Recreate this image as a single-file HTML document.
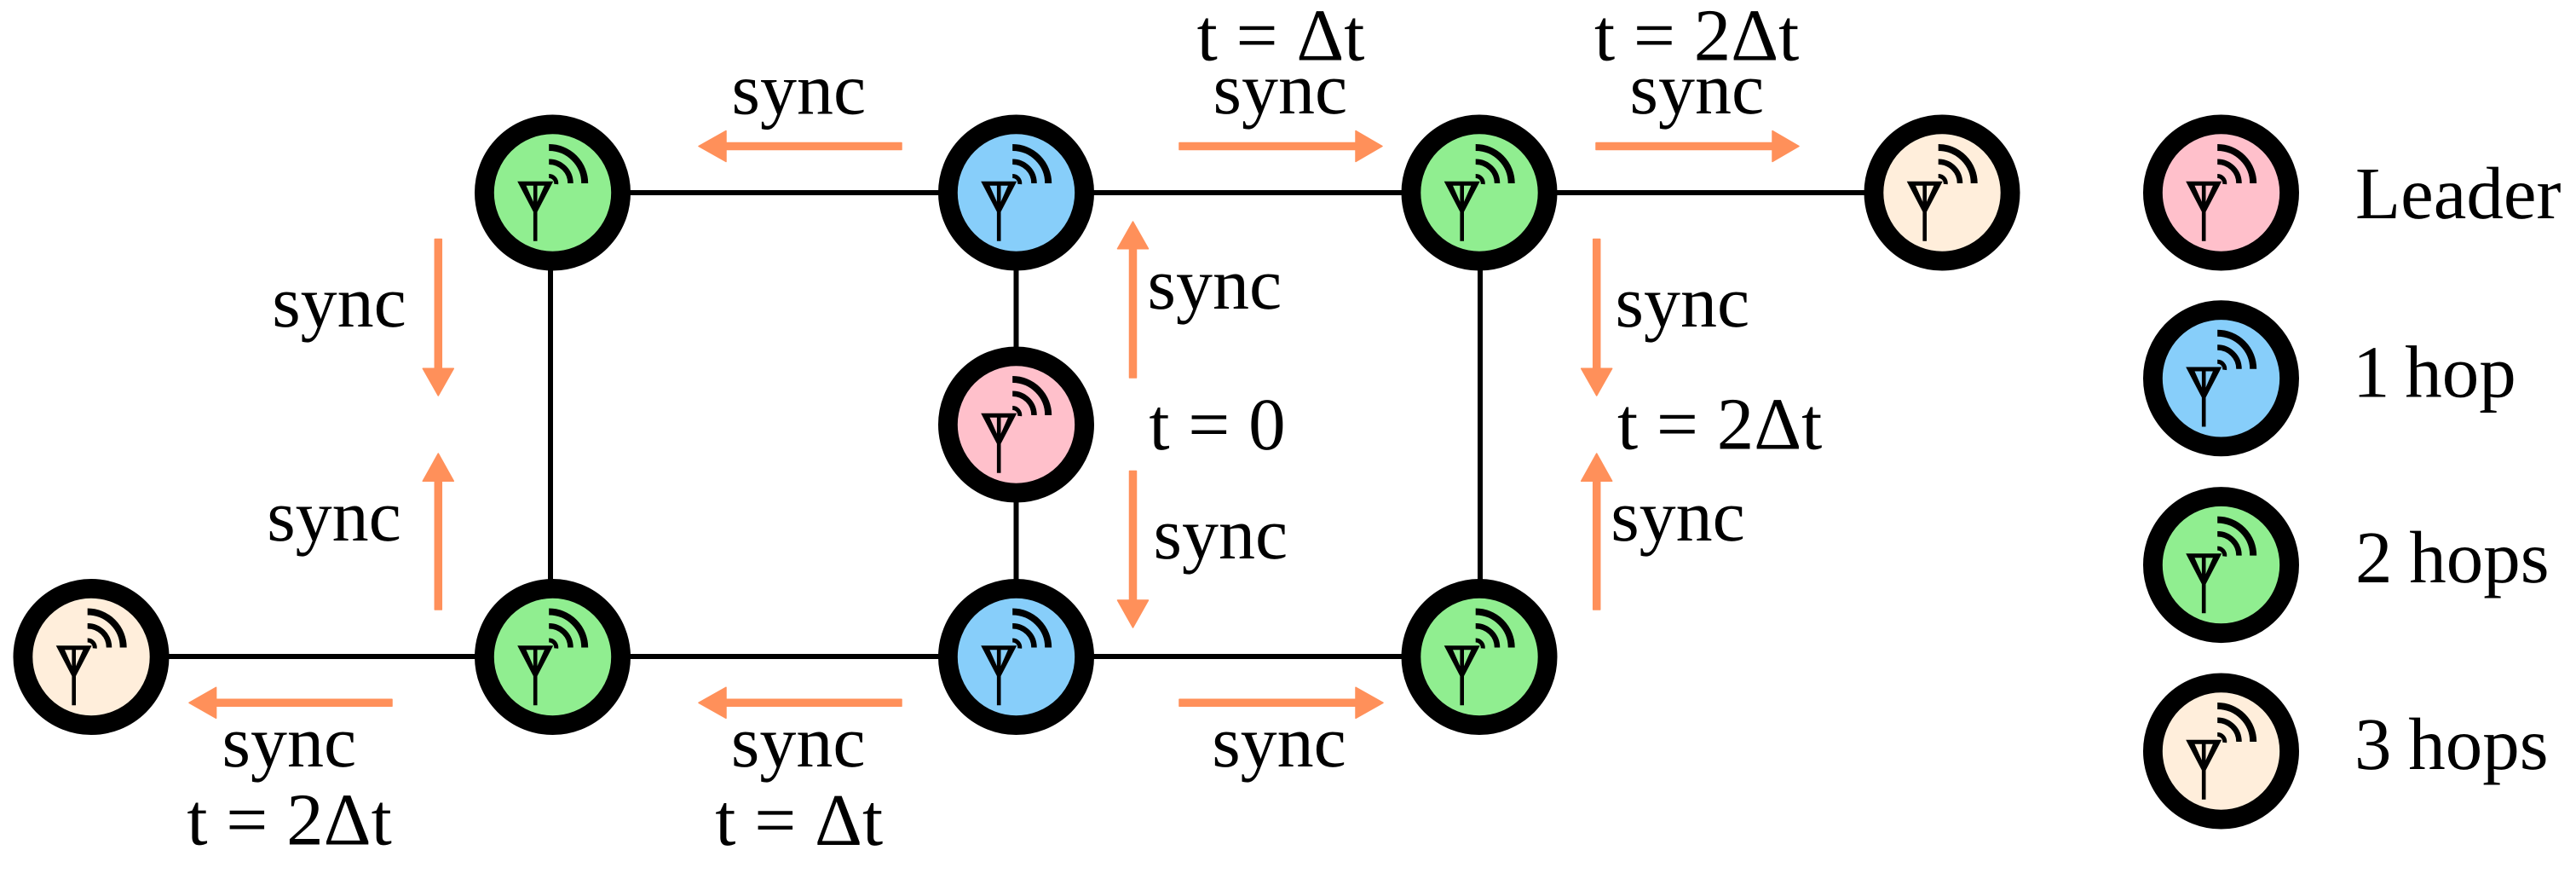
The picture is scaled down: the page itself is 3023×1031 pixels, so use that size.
<!DOCTYPE html>
<html lang="en"><head><meta charset="utf-8"><title>Sync diagram</title>
<style>
html,body{margin:0;padding:0;background:#fff;width:3023px;height:1031px;overflow:hidden}
svg{display:block}
text{font-family:"Liberation Serif","DejaVu Serif",serif;font-size:87px;fill:#000;text-rendering:geometricPrecision}
text.s{font-size:86px}
</style></head><body>
<svg xmlns="http://www.w3.org/2000/svg" width="3023" height="1031" viewBox="0 0 3023 1031">
<defs>
<g id="ic">
<path fill="#000" fill-rule="evenodd" d="M-41.3 -13.3H0.7L-18 22.5V56.7H-22.6V22.5ZM-31 -8.3H-22.6V10.7ZM-18 -8.3H-9.6L-18 10.7Z"/>
<g fill="none" stroke="#000">
<path stroke-width="8" d="M-4.3 -53A42 42 0 0 1 37.7 -11"/>
<path stroke-width="6.5" d="M-4.3 -36.3A25.3 25.3 0 0 1 21 -11"/>
<path stroke-width="5" d="M-4.3 -19.5A8.5 8.5 0 0 1 4.2 -10"/>
</g>
</g>
</defs>
<g stroke="#000" stroke-width="6" fill="none">
<path d="M648 226H2279"/><path d="M107 770H1736"/>
<path d="M646 226V770"/><path d="M1192.5 226V770"/><path d="M1737 226V770"/>
</g>
<g stroke="#000" stroke-width="22.8">
<circle cx="648.5" cy="226" r="80.1" fill="#90EE90"/>
<circle cx="1192.5" cy="226" r="80.1" fill="#87CEFA"/>
<circle cx="1736" cy="226" r="80.1" fill="#90EE90"/>
<circle cx="2279" cy="226" r="80.1" fill="#FFEEDB"/>
<circle cx="1192.5" cy="498" r="80.1" fill="#FFC0CB"/>
<circle cx="107" cy="770.5" r="80.1" fill="#FFEEDB"/>
<circle cx="648.5" cy="770.5" r="80.1" fill="#90EE90"/>
<circle cx="1192.5" cy="770.5" r="80.1" fill="#87CEFA"/>
<circle cx="1736" cy="770.5" r="80.1" fill="#90EE90"/>
<circle cx="2606.5" cy="226" r="80.1" fill="#FFC0CB"/>
<circle cx="2606.5" cy="443.8" r="80.1" fill="#87CEFA"/>
<circle cx="2606.5" cy="662.6" r="80.1" fill="#90EE90"/>
<circle cx="2606.5" cy="881" r="80.1" fill="#FFEEDB"/>
</g>
<use href="#ic" x="648.5" y="226"/>
<use href="#ic" x="1192.5" y="226"/>
<use href="#ic" x="1736" y="226"/>
<use href="#ic" x="2279" y="226"/>
<use href="#ic" x="1192.5" y="498"/>
<use href="#ic" x="107" y="770.5"/>
<use href="#ic" x="648.5" y="770.5"/>
<use href="#ic" x="1192.5" y="770.5"/>
<use href="#ic" x="1736" y="770.5"/>
<use href="#ic" x="2606.5" y="226"/>
<use href="#ic" x="2606.5" y="443.8"/>
<use href="#ic" x="2606.5" y="662.6"/>
<use href="#ic" x="2606.5" y="881"/>
<g fill="#FF905A" stroke="#FF905A" stroke-width="1.5" stroke-linejoin="round">
<path d="M1384 167.5H1591V153.5L1622 171.5L1591 189.5V175.5H1384Z"/>
<path d="M1873 167.5H2080V153.5L2111 171.5L2080 189.5V175.5H1873Z"/>
<path d="M1058 167.5H852V153.5L820 171.5L852 189.5V175.5H1058Z"/>
<path d="M460 820.3H253.6V806.3L222 824.3L253.6 842.3V828.3H460Z"/>
<path d="M1058 820.3H852V806.3L820 824.3L852 842.3V828.3H1058Z"/>
<path d="M1384 820.3H1591V806.3L1623 824.3L1591 842.3V828.3H1384Z"/>
<path d="M1325.5 443H1333.5V291.7H1347.5L1329.5 260L1311.5 291.7H1325.5Z"/>
<path d="M1325.5 552.5H1333.5V704H1347.5L1329.5 736L1311.5 704H1325.5Z"/>
<path d="M510.3 280.5H518.3V432.3H532.3L514.3 464L496.3 432.3H510.3Z"/>
<path d="M510.3 715H518.3V564.3H532.3L514.3 532L496.3 564.3H510.3Z"/>
<path d="M1869.7 280.5H1877.7V432.3H1891.7L1873.7 464L1855.7 432.3H1869.7Z"/>
<path d="M1869.7 715H1877.7V564.3H1891.7L1873.7 532L1855.7 564.3H1869.7Z"/>
</g>
<text x="1404.6" y="70.7">t = Δt</text>
<text x="1871" y="70.7">t = 2Δt</text>
<text class="s" x="1423.5" y="133">sync</text>
<text class="s" x="1912.5" y="133">sync</text>
<text class="s" x="858.5" y="133.3">sync</text>
<text class="s" x="1346.5" y="362">sync</text>
<text x="1348.4" y="527">t = 0</text>
<text class="s" x="1353.5" y="655">sync</text>
<text class="s" x="1895.5" y="383">sync</text>
<text x="1898" y="526.7">t = 2Δt</text>
<text class="s" x="1890.2" y="634">sync</text>
<text class="s" x="319.2" y="383">sync</text>
<text class="s" x="313.2" y="634">sync</text>
<text class="s" x="260.5" y="899">sync</text>
<text class="s" x="857.9" y="899">sync</text>
<text class="s" x="1422.2" y="899">sync</text>
<text x="219.4" y="990.7">t = 2Δt</text>
<text x="839.3" y="991">t = Δt</text>
<text x="2764" y="256">Leader</text>
<text x="2761" y="465.4">1<tspan dx="-4"> hop</tspan></text>
<text x="2764" y="683">2<tspan dx="-2"> hops</tspan></text>
<text x="2763" y="902">3<tspan dx="-2"> hops</tspan></text>
</svg>
</body></html>
